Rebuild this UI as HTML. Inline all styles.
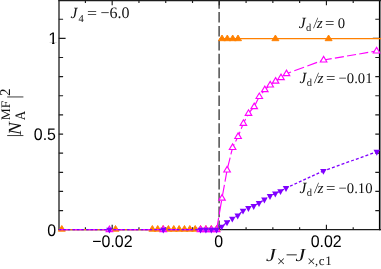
<!DOCTYPE html>
<html><head><meta charset="utf-8"><title>plot</title>
<style>html,body{margin:0;padding:0;background:#fff;overflow:hidden}svg{display:block;will-change:transform;opacity:0.999;text-rendering:geometricPrecision}</style>
</head><body>
<svg width="381" height="269" viewBox="0 0 381 269" style="display:block">
<rect width="381" height="269" fill="#fff"/>
<path d="M59 0V229.65" stroke="#1c1c1c" stroke-width="1.3" fill="none"/>
<path d="M379.7 0V230.25" stroke="#000" stroke-width="1.6" fill="none"/>
<path d="M58.4 0.5H381" stroke="#1c1c1c" stroke-width="1.3" fill="none"/>
<path d="M58.4 229.65H381" stroke="#1c1c1c" stroke-width="1.3" fill="none"/>
<g stroke="#1c1c1c" stroke-width="1.15" fill="none">
<path d="M85.40 229.65v-2.5M85.40 0.4v2.5M112.18 229.65v-4.8M112.18 0.4v4.8M138.96 229.65v-2.5M138.96 0.4v2.5M165.74 229.65v-2.5M165.74 0.4v2.5M192.52 229.65v-2.5M192.52 0.4v2.5M219.30 229.65v-4.8M219.30 0.4v4.8M246.08 229.65v-2.5M246.08 0.4v2.5M272.86 229.65v-2.5M272.86 0.4v2.5M299.64 229.65v-2.5M299.64 0.4v2.5M326.42 229.65v-4.8M326.42 0.4v4.8M353.20 229.65v-2.5M353.20 0.4v2.5M58.8 210.57h4.3M379.6 210.57h-4.3M58.8 191.44h4.3M379.6 191.44h-4.3M58.8 172.31h4.3M379.6 172.31h-4.3M58.8 153.18h4.3M379.6 153.18h-4.3M58.8 134.05h4.3M379.6 134.05h-4.3M58.8 114.92h4.3M379.6 114.92h-4.3M58.8 95.79h4.3M379.6 95.79h-4.3M58.8 76.66h4.3M379.6 76.66h-4.3M58.8 57.53h4.3M379.6 57.53h-4.3M58.8 38.40h6.8M379.6 38.40h-6.8M58.8 19.27h4.3M379.6 19.27h-4.3"/>
</g>
<path d="M219.1 0V229.65" stroke="#2a2a2a" stroke-width="1.25" stroke-dasharray="10.6 3.3" stroke-dashoffset="1.9" fill="none"/>
<path d="M58.8 229.65H216.6M219.3 38.65H381" stroke="#ff8000" stroke-width="1.15" fill="none"/>
<path d="M61.80 225.50L65.30 231.20L58.30 231.20Z" fill="#ff8000" stroke="#ff8000" stroke-width="0.9"/>
<path d="M115.50 225.50L119.00 231.20L112.00 231.20Z" fill="#ff8000" stroke="#ff8000" stroke-width="0.9"/>
<path d="M152.35 225.50L155.85 231.20L148.85 231.20Z" fill="#ff8000" stroke="#ff8000" stroke-width="0.9"/>
<path d="M157.71 225.50L161.21 231.20L154.21 231.20Z" fill="#ff8000" stroke="#ff8000" stroke-width="0.9"/>
<path d="M163.06 225.50L166.56 231.20L159.56 231.20Z" fill="#ff8000" stroke="#ff8000" stroke-width="0.9"/>
<path d="M168.42 225.50L171.92 231.20L164.92 231.20Z" fill="#ff8000" stroke="#ff8000" stroke-width="0.9"/>
<path d="M173.77 225.50L177.27 231.20L170.27 231.20Z" fill="#ff8000" stroke="#ff8000" stroke-width="0.9"/>
<path d="M179.13 225.50L182.63 231.20L175.63 231.20Z" fill="#ff8000" stroke="#ff8000" stroke-width="0.9"/>
<path d="M184.49 225.50L187.99 231.20L180.99 231.20Z" fill="#ff8000" stroke="#ff8000" stroke-width="0.9"/>
<path d="M189.84 225.50L193.34 231.20L186.34 231.20Z" fill="#ff8000" stroke="#ff8000" stroke-width="0.9"/>
<path d="M195.20 225.50L198.70 231.20L191.70 231.20Z" fill="#ff8000" stroke="#ff8000" stroke-width="0.9"/>
<path d="M200.55 225.50L204.05 231.20L197.05 231.20Z" fill="#ff8000" stroke="#ff8000" stroke-width="0.9"/>
<path d="M205.91 225.50L209.41 231.20L202.41 231.20Z" fill="#ff8000" stroke="#ff8000" stroke-width="0.9"/>
<path d="M211.27 225.50L214.77 231.20L207.77 231.20Z" fill="#ff8000" stroke="#ff8000" stroke-width="0.9"/>
<path d="M216.62 225.50L220.12 231.20L213.12 231.20Z" fill="#ff8000" stroke="#ff8000" stroke-width="0.9"/>
<path d="M222.00 35.00L225.50 40.70L218.50 40.70Z" fill="#ff8000" stroke="#ff8000" stroke-width="0.9"/>
<path d="M227.30 35.00L230.80 40.70L223.80 40.70Z" fill="#ff8000" stroke="#ff8000" stroke-width="0.9"/>
<path d="M232.70 35.00L236.20 40.70L229.20 40.70Z" fill="#ff8000" stroke="#ff8000" stroke-width="0.9"/>
<path d="M238.00 35.00L241.50 40.70L234.50 40.70Z" fill="#ff8000" stroke="#ff8000" stroke-width="0.9"/>
<path d="M275.40 35.00L278.90 40.70L271.90 40.70Z" fill="#ff8000" stroke="#ff8000" stroke-width="0.9"/>
<path d="M328.60 35.00L332.10 40.70L325.10 40.70Z" fill="#ff8000" stroke="#ff8000" stroke-width="0.9"/>
<path d="M58.8 229.65H216.6" stroke="#ff00ff" stroke-width="1.15" stroke-dasharray="10.4 3.25" stroke-dashoffset="13.15" fill="none"/>
<path d="M216.60 229.70L222.00 198.20L227.10 170.00L232.60 147.50L238.10 136.50L243.40 123.40L248.50 113.40L254.20 106.70L259.30 96.60L264.80 89.70L270.20 85.00L275.60 81.20L281.00 77.70L286.50 73.70" stroke="#ff00ff" stroke-width="1.15" stroke-dasharray="12.3 3.0 13.9 3.2 13.2 3.2 10.7 3.2 10.7 3.2 10.7 3.2 10.7 3.2 10.7 3.2 10.7 3.2 10.7 3.2 10.7 3.2 10.7 3.2 10.7 3.2 10.7 3.2" fill="none"/>
<path d="M286.5 73.7L323.6 60" stroke="#ff00ff" stroke-width="1.15" stroke-dasharray="10.4 3.5" stroke-dashoffset="5.6" fill="none"/>
<path d="M323.6 60L376.6 51" stroke="#ff00ff" stroke-width="1.15" stroke-dasharray="9.1 3.25" stroke-dashoffset="0.9" fill="none"/>
<path d="M109.40 226.10L112.70 231.65L106.10 231.65Z" fill="#fff" stroke="#ff00ff" stroke-width="1.1"/>
<path d="M163.30 226.10L166.60 231.65L160.00 231.65Z" fill="#fff" stroke="#ff00ff" stroke-width="1.1"/>
<path d="M200.55 226.10L203.85 231.65L197.25 231.65Z" fill="#fff" stroke="#ff00ff" stroke-width="1.1"/>
<path d="M205.90 226.10L209.20 231.65L202.60 231.65Z" fill="#fff" stroke="#ff00ff" stroke-width="1.1"/>
<path d="M211.30 226.10L214.60 231.65L208.00 231.65Z" fill="#fff" stroke="#ff00ff" stroke-width="1.1"/>
<path d="M216.60 226.10L219.90 231.65L213.30 231.65Z" fill="#fff" stroke="#ff00ff" stroke-width="1.1"/>
<path d="M222.00 194.60L225.30 200.15L218.70 200.15Z" fill="#fff" stroke="#ff00ff" stroke-width="1.1"/>
<path d="M227.10 166.40L230.40 171.95L223.80 171.95Z" fill="#fff" stroke="#ff00ff" stroke-width="1.1"/>
<path d="M232.60 143.90L235.90 149.45L229.30 149.45Z" fill="#fff" stroke="#ff00ff" stroke-width="1.1"/>
<path d="M238.10 132.90L241.40 138.45L234.80 138.45Z" fill="#fff" stroke="#ff00ff" stroke-width="1.1"/>
<path d="M243.40 119.80L246.70 125.35L240.10 125.35Z" fill="#fff" stroke="#ff00ff" stroke-width="1.1"/>
<path d="M248.50 109.80L251.80 115.35L245.20 115.35Z" fill="#fff" stroke="#ff00ff" stroke-width="1.1"/>
<path d="M254.20 103.10L257.50 108.65L250.90 108.65Z" fill="#fff" stroke="#ff00ff" stroke-width="1.1"/>
<path d="M259.30 93.00L262.60 98.55L256.00 98.55Z" fill="#fff" stroke="#ff00ff" stroke-width="1.1"/>
<path d="M264.80 86.10L268.10 91.65L261.50 91.65Z" fill="#fff" stroke="#ff00ff" stroke-width="1.1"/>
<path d="M270.20 81.40L273.50 86.95L266.90 86.95Z" fill="#fff" stroke="#ff00ff" stroke-width="1.1"/>
<path d="M275.60 77.60L278.90 83.15L272.30 83.15Z" fill="#fff" stroke="#ff00ff" stroke-width="1.1"/>
<path d="M281.00 74.10L284.30 79.65L277.70 79.65Z" fill="#fff" stroke="#ff00ff" stroke-width="1.1"/>
<path d="M286.50 70.10L289.80 75.65L283.20 75.65Z" fill="#fff" stroke="#ff00ff" stroke-width="1.1"/>
<path d="M323.60 56.40L326.90 61.95L320.30 61.95Z" fill="#fff" stroke="#ff00ff" stroke-width="1.1"/>
<path d="M376.60 47.40L379.90 52.95L373.30 52.95Z" fill="#fff" stroke="#ff00ff" stroke-width="1.1"/>
<path d="M58.8 229.65H216.6" stroke="#8000ff" stroke-width="1.3" stroke-dasharray="2.6 1.95" stroke-dashoffset="0.15" fill="none"/>
<path d="M216.60 229.70L221.60 226.70L227.00 222.30L232.30 218.70L237.70 215.60L243.00 210.70L248.40 208.00L253.70 206.00L259.00 203.00L264.40 199.60L270.00 196.00L275.30 193.50L280.50 191.20L286.00 188.10L323.40 170.90" stroke="#8000ff" stroke-width="1.3" stroke-dasharray="2.9 1.94" stroke-dashoffset="1.27" fill="none"/>
<path d="M323.40 170.90L376.80 151.80" stroke="#8000ff" stroke-width="1.3" stroke-dasharray="3 2.08" stroke-dashoffset="1.08" fill="none"/>
<path d="M109.40 233.60L112.65 227.70L106.15 227.70Z" fill="#8000ff"/>
<path d="M163.30 233.60L166.55 227.70L160.05 227.70Z" fill="#8000ff"/>
<path d="M200.55 233.60L203.80 227.70L197.30 227.70Z" fill="#8000ff"/>
<path d="M205.90 233.60L209.15 227.70L202.65 227.70Z" fill="#8000ff"/>
<path d="M211.30 233.60L214.55 227.70L208.05 227.70Z" fill="#8000ff"/>
<path d="M216.60 233.60L219.85 227.70L213.35 227.70Z" fill="#8000ff"/>
<path d="M221.60 230.60L224.85 224.70L218.35 224.70Z" fill="#8000ff"/>
<path d="M227.00 226.20L230.25 220.30L223.75 220.30Z" fill="#8000ff"/>
<path d="M232.30 222.60L235.55 216.70L229.05 216.70Z" fill="#8000ff"/>
<path d="M237.70 219.50L240.95 213.60L234.45 213.60Z" fill="#8000ff"/>
<path d="M243.00 214.60L246.25 208.70L239.75 208.70Z" fill="#8000ff"/>
<path d="M248.40 211.90L251.65 206.00L245.15 206.00Z" fill="#8000ff"/>
<path d="M253.70 209.90L256.95 204.00L250.45 204.00Z" fill="#8000ff"/>
<path d="M259.00 206.90L262.25 201.00L255.75 201.00Z" fill="#8000ff"/>
<path d="M264.40 203.50L267.65 197.60L261.15 197.60Z" fill="#8000ff"/>
<path d="M270.00 199.90L273.25 194.00L266.75 194.00Z" fill="#8000ff"/>
<path d="M275.30 197.40L278.55 191.50L272.05 191.50Z" fill="#8000ff"/>
<path d="M280.50 195.10L283.75 189.20L277.25 189.20Z" fill="#8000ff"/>
<path d="M286.00 192.00L289.25 186.10L282.75 186.10Z" fill="#8000ff"/>
<path d="M323.40 174.80L326.65 168.90L320.15 168.90Z" fill="#8000ff"/>
<path d="M376.80 155.70L380.05 149.80L373.55 149.80Z" fill="#8000ff"/>
<clipPath id="c1"><rect x="40" y="28" width="17.6" height="14.6"/><rect x="52.1" y="42" width="2.3" height="3"/></clipPath>
<g clip-path="url(#c1)"><text transform="translate(57.5 43.9)" font-family="'Liberation Sans', sans-serif" font-size="16.8" text-anchor="end" fill="#000">1</text></g>
<text transform="translate(56 139.6) scale(0.95 1)" font-family="'Liberation Sans', sans-serif" font-size="16.8" text-anchor="end" fill="#000">0.5</text>
<text transform="translate(56.1 235.5) scale(0.95 1)" font-family="'Liberation Sans', sans-serif" font-size="16.8" text-anchor="end" fill="#000">0</text>
<text transform="translate(112.4 246.9) scale(0.95 1)" font-family="'Liberation Sans', sans-serif" font-size="16.8" text-anchor="middle" fill="#000">−0.02</text>
<text transform="translate(218.7 246.9) scale(0.95 1)" font-family="'Liberation Sans', sans-serif" font-size="16.8" text-anchor="middle" fill="#000">0</text>
<text transform="translate(326.2 246.9) scale(0.95 1)" font-family="'Liberation Sans', sans-serif" font-size="16.8" text-anchor="middle" fill="#000">0.02</text>
<text transform="translate(70.6 18.4)" font-family="'Liberation Serif', serif" font-size="15.5" text-anchor="start" fill="#111" font-style="italic">J</text>
<text transform="translate(78.6 22.0)" font-family="'Liberation Serif', serif" font-size="10.5" text-anchor="start" fill="#111">4</text>
<text transform="translate(86.9 18.4) scale(1.15 1)" font-family="'Liberation Serif', serif" font-size="15.5" text-anchor="start" fill="#111">=</text>
<text transform="translate(100.6 18.4)" font-family="'Liberation Serif', serif" font-size="16" text-anchor="start" fill="#111">−6.0</text>
<text transform="translate(298.8 28.1)" font-family="'Liberation Serif', serif" font-size="15.5" text-anchor="start" fill="#111" font-style="italic">J</text><text transform="translate(306.0 31.200000000000003)" font-family="'Liberation Serif', serif" font-size="10.5" text-anchor="start" fill="#111">d</text><text transform="translate(313.8 28.1) scale(0.8 1)" font-family="'Liberation Serif', serif" font-size="15.5" text-anchor="start" fill="#111" font-style="italic">/</text><text transform="translate(316.8 28.1)" font-family="'Liberation Serif', serif" font-size="15.5" text-anchor="start" fill="#111" font-style="italic">z</text><text transform="translate(325.1 28.1) scale(1.08 1)" font-family="'Liberation Serif', serif" font-size="15.5" text-anchor="start" fill="#111">=</text><text transform="translate(337.7 28.1)" font-family="'Liberation Serif', serif" font-size="14.7" text-anchor="start" fill="#111">0</text>
<text transform="translate(299.6 82.8)" font-family="'Liberation Serif', serif" font-size="15.5" text-anchor="start" fill="#111" font-style="italic">J</text><text transform="translate(306.8 85.89999999999999)" font-family="'Liberation Serif', serif" font-size="10.5" text-anchor="start" fill="#111">d</text><text transform="translate(314.6 82.8) scale(0.8 1)" font-family="'Liberation Serif', serif" font-size="15.5" text-anchor="start" fill="#111" font-style="italic">/</text><text transform="translate(317.6 82.8)" font-family="'Liberation Serif', serif" font-size="15.5" text-anchor="start" fill="#111" font-style="italic">z</text><text transform="translate(325.90000000000003 82.8) scale(1.08 1)" font-family="'Liberation Serif', serif" font-size="15.5" text-anchor="start" fill="#111">=</text><text transform="translate(338.5 82.8)" font-family="'Liberation Serif', serif" font-size="14.7" text-anchor="start" fill="#111">−0.01</text>
<text transform="translate(299.6 193.1)" font-family="'Liberation Serif', serif" font-size="15.5" text-anchor="start" fill="#111" font-style="italic">J</text><text transform="translate(306.8 196.2)" font-family="'Liberation Serif', serif" font-size="10.5" text-anchor="start" fill="#111">d</text><text transform="translate(314.6 193.1) scale(0.8 1)" font-family="'Liberation Serif', serif" font-size="15.5" text-anchor="start" fill="#111" font-style="italic">/</text><text transform="translate(317.6 193.1)" font-family="'Liberation Serif', serif" font-size="15.5" text-anchor="start" fill="#111" font-style="italic">z</text><text transform="translate(325.90000000000003 193.1) scale(1.08 1)" font-family="'Liberation Serif', serif" font-size="15.5" text-anchor="start" fill="#111">=</text><text transform="translate(338.5 193.1)" font-family="'Liberation Serif', serif" font-size="14.7" text-anchor="start" fill="#111">−0.10</text>
<text transform="translate(265.9 261.2) scale(1.2 1)" font-family="'Liberation Serif', serif" font-size="18.5" text-anchor="start" fill="#111" font-style="italic">J</text>
<text transform="translate(277.1 266.4)" font-family="'Liberation Serif', serif" font-size="14.5" text-anchor="start" fill="#111">×</text>
<text transform="translate(285.6 261.4) scale(1.18 1)" font-family="'Liberation Serif', serif" font-size="18.5" text-anchor="start" fill="#111">−</text>
<text transform="translate(295.6 261.2) scale(1.2 1)" font-family="'Liberation Serif', serif" font-size="18.5" text-anchor="start" fill="#111" font-style="italic">J</text>
<text transform="translate(307.3 266.4)" font-family="'Liberation Serif', serif" font-size="14.5" text-anchor="start" fill="#111">×</text>
<text transform="translate(314.9 265.3)" font-family="'Liberation Serif', serif" font-size="12.5" text-anchor="start" fill="#111">,</text>
<text transform="translate(318.8 265.3)" font-family="'Liberation Serif', serif" font-size="13" text-anchor="start" fill="#111">c</text>
<text transform="translate(325.2 265.3)" font-family="'Liberation Serif', serif" font-size="13" text-anchor="start" fill="#111">1</text>
<path d="M7.2 135.55H23.4M7.2 96.95H23.4" stroke="#333" stroke-width="0.95" fill="none"/>
<text transform="translate(20.6 134.9) rotate(-90) scale(1.04 1)" font-family="'Liberation Serif', serif" font-size="18.5" text-anchor="start" fill="#111" font-style="italic">N</text>
<text transform="translate(10.2 120.2) rotate(-90) scale(1.03 1)" font-family="'Liberation Serif', serif" font-size="13" text-anchor="start" fill="#111">MF</text>
<text transform="translate(25.0 120.3) rotate(-90) scale(0.9 1)" font-family="'Liberation Serif', serif" font-size="14.5" text-anchor="start" fill="#111">A</text>
<text transform="translate(9.6 96.0) rotate(-90)" font-family="'Liberation Serif', serif" font-size="15" text-anchor="start" fill="#111">2</text>
</svg>
</body></html>
